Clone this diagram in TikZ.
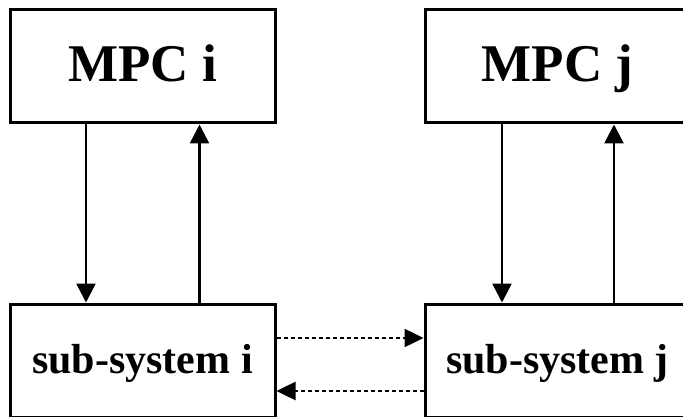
\documentclass[tikz,border=0pt]{standalone}
\usepackage{fontspec}
\setmainfont{Liberation Serif}
\usetikzlibrary{arrows.meta}
\begin{document}
\begin{tikzpicture}[x=1pt,y=-1pt,
  block/.style={draw, line width=3pt, minimum width=265pt, minimum height=113pt,
    inner sep=0pt, font=\bfseries},
  ctrl/.style={block, font=\fontsize{53}{60}\selectfont\bfseries, text height=36pt, text depth=5pt},
  plant/.style={block, font=\fontsize{42}{48}\selectfont\bfseries, text height=30pt, text depth=5pt},
  flow/.style={line width=2.5pt, -{Triangle[width=19pt,length=19pt]}},
  couple/.style={flow, -{Triangle[width=18pt,length=19pt]}, dash pattern=on 4pt off 3pt}]
\useasboundingbox (0,0) rectangle (683,417);
\clip (0,0) rectangle (683,417);

% controllers and sub-systems
\node[ctrl]  (mi) at (142.5,66.5)  {MPC i};
\node[ctrl]  (mj) at (557.5,66.5)  {MPC j};
\node[plant] (si) at (142.5,360.5) {sub-system i};
\node[plant] (sj) at (557.5,360.5) {sub-system j};

% control loops
\draw[flow] ([xshift=-56.5pt]mi.south) -- ([xshift=-56.5pt]si.north);
\draw[flow] ([xshift=57pt]si.north) -- ([xshift=57pt]mi.south);
\draw[flow] ([xshift=-55.5pt]mj.south) -- ([xshift=-55.5pt]sj.north);
\draw[flow] ([xshift=56.5pt]sj.north) -- ([xshift=56.5pt]mj.south);

% coupling between sub-systems
\draw[couple] ([yshift=22.5pt]si.east) -- ([yshift=22.5pt]sj.west);
\draw[couple] ([yshift=-30.5pt]sj.west) -- ([yshift=-30.5pt]si.east);
\end{tikzpicture}
\end{document}
